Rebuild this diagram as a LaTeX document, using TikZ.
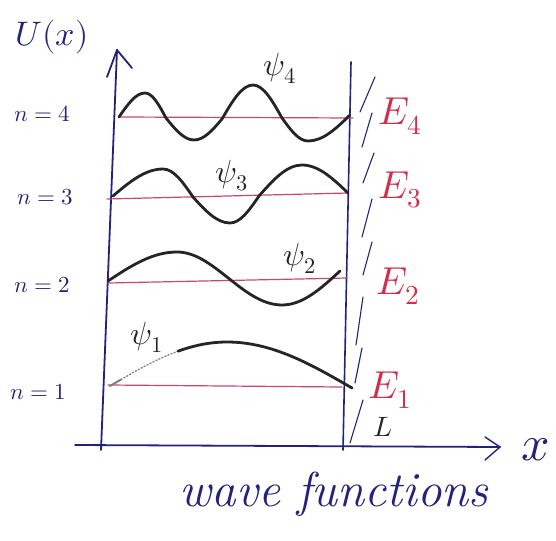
\documentclass[tikz,border=0pt]{standalone}
\usepackage{tikz}
\usepackage{unicode-math}
\definecolor{navy}{HTML}{23237A}
\definecolor{redtxt}{HTML}{D0304C}
\definecolor{redline}{HTML}{C8486E}
\definecolor{ink}{HTML}{252525}
\begin{document}
\begin{tikzpicture}[x=1pt,y=-1pt,line cap=round,line join=round,
  axis/.style={navy,line width=1.8pt},
  wall/.style={navy,line width=1.6pt},
  hatch/.style={navy,line width=1.1pt},
  level/.style={redline,line width=1.2pt},
  wave/.style={ink,line width=2.8pt},
  lbl/.style={navy,inner sep=0pt,font=\fontsize{23}{27}\selectfont},
  elbl/.style={redtxt,inner sep=0pt,font=\fontsize{39}{43}\selectfont},
  psilbl/.style={ink,inner sep=0pt,font=\fontsize{32}{36}\selectfont}]
\useasboundingbox (0,0) rectangle (556,540);
% axes
\coordinate (ybot) at (101,450);
\coordinate (ytip) at (117,50);
\coordinate (yb1) at (107,77);
\coordinate (yb2) at (132,68);
\draw[axis] (ybot) -- (ytip);
\draw[axis] (ytip) -- (yb1);
\draw[axis] (ytip) -- (yb2);
\coordinate (xstart) at (75,445);
\coordinate (xtip) at (500,447);
\coordinate (xb1) at (485,437);
\coordinate (xb2) at (485,460);
\draw[axis] (xstart) -- (xtip);
\draw[axis,line width=1.4pt] (xtip) -- (xb1);
\draw[axis,line width=1.4pt] (xtip) -- (xb2);
% right wall
\coordinate (wtop) at (351,62);
\coordinate (wbot) at (343,450);
\draw[wall] (wtop) -- (wbot);
% hatch strokes
\foreach \a/\b/\c/\d in {375/77/360/112, 372/113/362/147, 374/153/363/183, 372/199/362/237,
  372/242/363/275, 363/297/356/345, 362/348/355/383, 363/400/350/443}
  \draw[hatch] (\a,\b) -- (\c,\d);
% energy levels
\draw[level] (120,117) -- (353,118);
\draw[level] (107,199) -- (348,193);
\draw[level] (108,283) -- (347,278);
\draw[level] (108,385) -- (342,387);
% wave functions
\draw[wave] (119,117) sin (145,93) cos (166,118) sin (194,140) cos (222,119)
  sin (253,85) cos (282,118) sin (308,141) cos (350,115);
\draw[wave] (113,196) sin (163,169) cos (193,197) sin (230,223) cos (259,196)
  sin (302,165) cos (348,193);
\draw[wave] (108,281) sin (177,252) cos (227,277) sin (282,305) cos (340,271);
\draw[gray,line width=2pt] plot[domain=110:121,samples=6] (\x,{386-44*sin(90*(\x-110)/117)});
\draw[gray,line width=1.3pt,dotted] plot[domain=121:178,samples=15] (\x,{386-44*sin(90*(\x-110)/117)});
\draw[wave] plot[domain=178:227,samples=15] (\x,{386-44*sin(90*(\x-110)/117)}) cos (352,388);
% labels
\node[lbl,font=\fontsize{34}{38}\selectfont] (U) at (52,37) {$U(x)$};
\node[lbl] (n4) at (42,114) {$n=4$};
\node[lbl] (n3) at (45,197) {$n=3$};
\node[lbl] (n2) at (42,285) {$n=2$};
\node[lbl] (n1) at (38,392) {$n=1$};
\node[psilbl] (p4) at (280,68) {$\psi_4$};
\node[psilbl] (p3) at (232,176) {$\psi_3$};
\node[psilbl] (p2) at (300,258) {$\psi_2$};
\node[psilbl] (p1) at (147,337) {$\psi_1$};
\node[elbl] (E4) at (400,116) {$E_4$};
\node[elbl] (E3) at (400,190) {$E_3$};
\node[elbl] (E2) at (398,286) {$E_2$};
\node[elbl] (E1) at (390,390) {$E_1$};
\node[lbl,ink,font=\fontsize{28}{32}\selectfont] (L) at (383,427) {$L$};
\node[lbl,font=\fontsize{50}{54}\selectfont] (X) at (536,450) {$x$};
\node[navy,inner sep=0pt,font=\fontsize{49}{54}\selectfont\itshape] (wf) at (334,494) {wave functions};
\end{tikzpicture}
\end{document}
